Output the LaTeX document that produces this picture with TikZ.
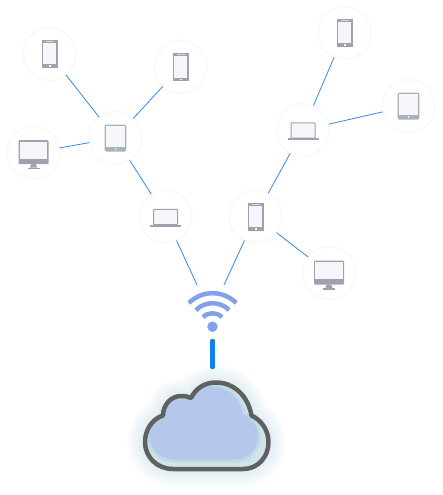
\documentclass[tikz,border=0pt]{standalone}
\usepackage{xcolor}
\usepackage{tikz}
\definecolor{linkblue}{RGB}{48,136,238}
\definecolor{barblue}{RGB}{15,128,238}
\definecolor{wifiblue}{RGB}{132,160,232}
\definecolor{iconmauve}{RGB}{160,160,176}
\definecolor{iconsage}{RGB}{166,180,182}
\definecolor{screenwhite}{RGB}{246,246,250}
\definecolor{cloudfill}{RGB}{182,199,236}
\definecolor{cloudhaze}{RGB}{210,228,234}
\definecolor{cloudglow}{RGB}{150,196,212}
\definecolor{cloudline}{RGB}{96,96,96}

\begin{document}
\begin{tikzpicture}[
  x=1pt, y=-1pt,
  device/.style={circle, fill=white, draw=black!2.5, line width=1pt, minimum size=52pt, inner sep=0pt, preaction={draw=black!1, line width=3.5pt}},
  link/.style={draw=linkblue, line width=0.8pt},
  wave/.style={draw=wifiblue, line width=4.5pt},
  cloudpath/.style={insert path={
    (173,469) -- (243,469)
    .. controls (258,469) and (268.5,457) .. (268.5,442)
    .. controls (268.5,430) and (261,420) .. (251.5,415.5)
    .. controls (248,396) and (234,382.5) .. (216,382.5)
    .. controls (205,382.5) and (196,388) .. (191,398)
    .. controls (188,396.5) and (185,396) .. (181,396)
    .. controls (171,396) and (163,405) .. (163,415.5)
    .. controls (152,419) and (145,430) .. (145,442)
    .. controls (145,457) and (157,469) .. (173,469) -- cycle}},
  pics/phone/.style={code={
    \fill[iconmauve] (-8,-14) rectangle (8,14);
    \fill[screenwhite] (-6.7,-11) rectangle (6.7,10.5);
    \fill[screenwhite] (-1,11.5) rectangle (1,13);
    \fill[black!15] (-4,-13) rectangle (4,-12);
  }},
  pics/tablet/.style={code={
    \fill[iconsage, rounded corners=1.5pt] (-10.8,-13.5) rectangle (10.8,13.5);
    \fill[screenwhite] (-9.2,-12) rectangle (9.2,9);
    \fill[screenwhite] (0,11) circle (1);
  }},
  pics/laptop/.style={code={
    \draw[iconmauve, line width=1pt, fill=screenwhite, rounded corners=0.5pt] (-12,8) rectangle (12,-7.2);
    \fill[iconmauve] (-15.5,8.2) rectangle (15.5,10.3);
  }},
  pics/desktop/.style={code={
    \fill[iconmauve, rounded corners=1pt] (-15,-12.3) rectangle (15,11.7);
    \fill[screenwhite] (-13.7,-11) rectangle (13.7,6);
    \fill[iconmauve] (-2.5,11.7) -- (2.5,11.7) -- (3.5,15) -- (-3.5,15) -- cycle;
    \fill[iconmauve] (-6,15) rectangle (6,16.8);
  }}
]
\useasboundingbox (0,0) rectangle (442,495);

% left branch
\node[device] (phoneA) at (49.5,54) {};
\node[device] (phoneB) at (180.5,67) {};
\node[device] (desktopA) at (33.5,152.5) {};
\node[device] (tabletA) at (115.5,138) {};
\node[device] (laptopA) at (165.5,216.5) {};
% right branch
\node[device] (phoneC) at (344.5,33) {};
\node[device] (tabletB) at (408.5,106) {};
\node[device] (laptopB) at (303,130) {};
\node[device] (phoneD) at (255.5,216.5) {};
\node[device] (desktopB) at (329,273) {};

\pic at (phoneA) {phone};
\pic at (phoneB) {phone};
\pic at (desktopA) {desktop};
\pic at (tabletA) {tablet};
\pic at (laptopA) {laptop};
\pic at (phoneC) {phone};
\pic at (tabletB) {tablet};
\pic at (laptopB) {laptop};
\pic at (phoneD) {phone};
\pic at (desktopB) {desktop};

\coordinate (wifiL) at (197,285);
\coordinate (wifiR) at (224,285);
\coordinate (barTop) at (212.5,341);
\coordinate (barEnd) at (212.5,367);

\draw[link] (phoneA) -- (tabletA);
\draw[link] (phoneB) -- (tabletA);
\draw[link] (desktopA) -- (tabletA);
\draw[link] (tabletA) -- (laptopA);
\draw[link] (laptopA) -- (wifiL);
\draw[link] (phoneC) -- (laptopB);
\draw[link] (tabletB) -- (laptopB);
\draw[link] (laptopB) -- (phoneD);
\draw[link] (phoneD) -- (desktopB);
\draw[link] (phoneD) -- (wifiR);

% wifi
\node[circle, fill=wifiblue, minimum size=10.5pt, inner sep=0pt] (wifidot) at (212.5,326.7) {};
\draw[wave] (wifidot.center) ++(-135:33.5) arc[start angle=-135, end angle=-45, radius=33.5];
\draw[wave] (wifidot.center) ++(-135:23.5) arc[start angle=-135, end angle=-45, radius=23.5];
\draw[wave] (wifidot.center) ++(-135:13.5) arc[start angle=-135, end angle=-45, radius=13.5];
\draw[barblue, line width=4.7pt, line cap=round] (barTop) -- (barEnd);

% cloud
\foreach \w in {36,34,...,4}
  \draw[cloudglow, opacity=0.018, line width=\w pt, line join=round, cloudpath];
\fill[cloudhaze, cloudpath];
\begin{scope}[shift={(23.6,65.4)}, xscale=0.872, yscale=0.84]
\foreach \w in {8,6,4,2}
  \draw[cloudglow, opacity=0.1, line width=\w pt, line join=round, cloudpath];
\fill[cloudfill, cloudpath];
\end{scope}
\draw[cloudline, line width=4.5pt, line join=round, cloudpath];
\end{tikzpicture}
\end{document}
